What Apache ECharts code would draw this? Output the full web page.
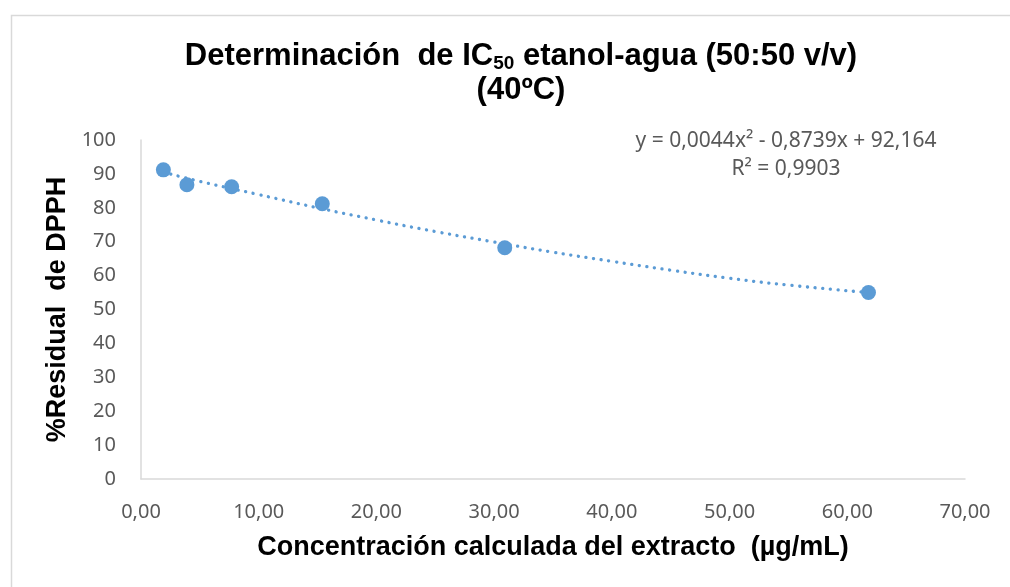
<!DOCTYPE html>
<html>
<head>
<meta charset="utf-8">
<script src="https://cdn.jsdelivr.net/npm/echarts@6/dist/echarts.min.js"></script>
<style>html,body{margin:0;padding:0;background:#fff}#c{width:1010px;height:587px}</style>
</head>
<body>
<div id="c"></div>
<script>
// Data
const concX = [1.9, 3.9, 7.7, 15.4, 30.9, 61.8];
const residualY = [91.2, 86.8, 86.2, 81.2, 68.2, 55.0];
// Trendline points
const trendX = [1.9, 5, 10, 15, 20, 25, 30, 35, 40, 45, 50, 55, 61.8];
const trendY = [90.5, 87.8, 83.9, 80.0, 76.4, 73.0, 69.9, 66.9, 64.2, 61.6, 59.2, 57.2, 55.0];
const equationText = 'y = 0,0044x² - 0,8739x + 92,164';
const r2Text = 'R² = 0,9903';

const chart = echarts.init(document.getElementById('c'));
const pts = concX.map((x, i) => [x, residualY[i]]);
const tpts = trendX.map((x, i) => [x, trendY[i]]);
const labelFont = '"Noto Sans", "Open Sans", sans-serif';
const boldFont = '"Liberation Sans", Arial, sans-serif';
chart.setOption({
  animation: false,
  backgroundColor: '#fff',
  title: {
    text: '{t|Determinación  de IC}{s|50}{t| etanol-agua (50:50 v/v)}\n{t|(40ºC)}',
    left: 516,
    textAlign: 'center',
    top: 34,
    textStyle: {
      rich: {
        t: { fontFamily: boldFont, fontWeight: 'bold', fontSize: 31, color: '#000', lineHeight: 34 },
        s: { fontFamily: boldFont, fontWeight: 'bold', fontSize: 19, color: '#000', lineHeight: 34, verticalAlign: 'bottom', padding: [17, 0, 0, 0] }
      }
    }
  },
  grid: { left: 141, right: 45, top: 140, bottom: 108, containLabel: false },
  xAxis: {
    type: 'value', min: 0, max: 70, interval: 10,
    name: 'Concentración calculada del extracto  (µg/mL)',
    nameLocation: 'middle', nameGap: 55,
    nameTextStyle: { fontFamily: boldFont, fontWeight: 'bold', fontSize: 27, color: '#000' },
    axisLine: { show: true, lineStyle: { color: '#d9d9d9', width: 1.5 } },
    axisTick: { show: false },
    splitLine: { show: false },
    axisLabel: { margin: 23, fontSize: 20, color: '#595959', fontFamily: labelFont,
      formatter: v => v.toFixed(2).replace('.', ',') }
  },
  yAxis: {
    type: 'value', min: 0, max: 100, interval: 10,
    name: '%Residual  de DPPH',
    nameLocation: 'middle', nameGap: 61, nameRotate: 90,
    nameTextStyle: { fontFamily: boldFont, fontWeight: 'bold', fontSize: 27, color: '#000' },
    axisLine: { show: true, lineStyle: { color: '#d9d9d9', width: 1.5 } },
    axisTick: { show: false },
    splitLine: { show: false },
    axisLabel: { margin: 25, fontSize: 20, color: '#595959', fontFamily: labelFont }
  },
  graphic: [
    { type: 'rect', left: 9, top: 13, shape: { width: 1100, height: 700 }, style: { fill: 'none', stroke: '#d9d9d9', lineWidth: 1.5 }, silent: true, z: -10 },
    { type: 'text', x: 786, y: 141, style: { text: equationText, fill: '#595959', fontSize: 21, fontFamily: labelFont, align: 'center', verticalAlign: 'middle' } },
    { type: 'text', x: 786, y: 169, style: { text: r2Text, fill: '#595959', fontSize: 21, fontFamily: labelFont, align: 'center', verticalAlign: 'middle' } }
  ],
  series: [
    {
      type: 'line', data: tpts, smooth: true, showSymbol: false, symbol: 'none',
      lineStyle: { color: '#5B9BD5', width: 3.3, type: [0.1, 7.6], cap: 'round' },
      z: 1
    },
    {
      type: 'scatter', data: pts, symbol: 'circle', symbolSize: 15,
      itemStyle: { color: '#5B9BD5', opacity: 1 },
      z: 2
    }
  ]
});
</script>
</body>
</html>
